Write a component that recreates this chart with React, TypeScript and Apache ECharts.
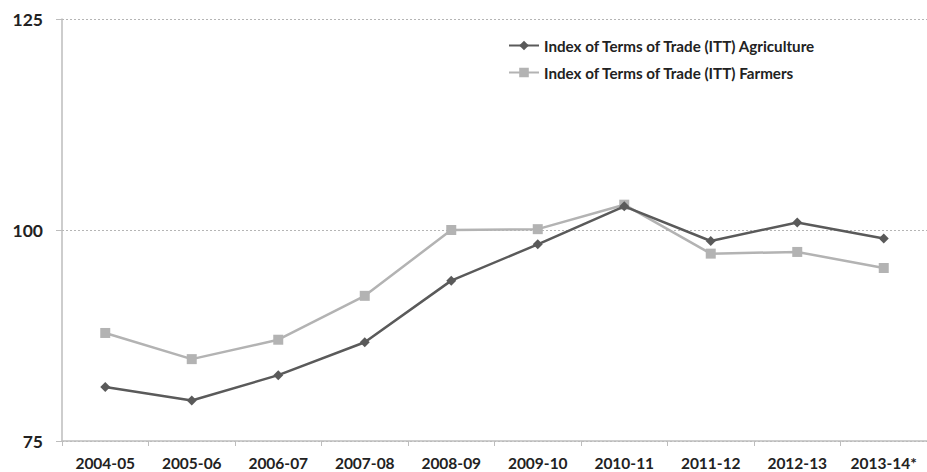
import React, { useEffect, useRef } from "react";
import * as echarts from "echarts";

const categories = ["2004-05", "2005-06", "2006-07", "2007-08", "2008-09", "2009-10", "2010-11", "2011-12", "2012-13", "2013-14*"];
const agriculture = [81.4, 79.8, 82.8, 86.7, 94.0, 98.3, 102.8, 98.7, 100.9, 99.0];
const farmers = [87.8, 84.7, 87.0, 92.2, 100.0, 100.1, 103.0, 97.2, 97.4, 95.5];
const seriesNames = ["Index of Terms of Trade (ITT) Agriculture", "Index of Terms of Trade (ITT) Farmers"];

const FONT = "Lato, 'Open Sans', sans-serif";

export default function App() {
  const ref = useRef<HTMLDivElement>(null);
  useEffect(() => {
    if (!ref.current) return;
    const chart = echarts.init(ref.current, null, { renderer: "svg" });
    chart.setOption({
      animation: false,
      backgroundColor: "#fff",
      grid: { left: 62, right: -12, top: 19, bottom: 31, containLabel: false },
      legend: {
        orient: "vertical",
        left: 503,
        top: 33,
        itemGap: 12,
        itemWidth: 30,
        itemHeight: 12,
        textStyle: { fontFamily: FONT, fontWeight: "bold", fontSize: 15.2, color: "#222" },
        data: seriesNames,
      },
      xAxis: {
        type: "category",
        data: categories,
        boundaryGap: true,
        axisLine: { lineStyle: { color: "#bdbdbd", width: 1.5 } },
        axisTick: { show: true, length: 5, lineStyle: { color: "#bdbdbd" } },
        axisLabel: { fontFamily: FONT, fontWeight: "bold", fontSize: 15.5, color: "#222", margin: 14 },
      },
      yAxis: {
        type: "value",
        min: 75,
        max: 125,
        interval: 25,
        axisLine: { show: true, lineStyle: { color: "#bdbdbd", width: 1.5 } },
        axisTick: { show: true, length: 6, lineStyle: { color: "#bdbdbd" } },
        axisLabel: { fontFamily: FONT, fontWeight: "bold", fontSize: 17.5, color: "#222", margin: 19 },
        splitLine: { show: true, lineStyle: { color: "#b5b5b5", type: [2, 2], width: 1 } },
      },
      series: [
        {
          name: seriesNames[0],
          type: "line",
          data: agriculture,
          symbol: "diamond",
          symbolSize: 10,
          itemStyle: { color: "#5a5a5a" },
          lineStyle: { color: "#5a5a5a", width: 2.5 },
          z: 3,
        },
        {
          name: seriesNames[1],
          type: "line",
          data: farmers,
          symbol: "rect",
          symbolSize: 10,
          itemStyle: { color: "#b3b3b3" },
          lineStyle: { color: "#b3b3b3", width: 2.5 },
          z: 2,
        },
      ],
    });
    return () => chart.dispose();
  }, []);
  return <div ref={ref} style={{ width: 927, height: 472, position: "absolute", left: 0, top: 0 }} />;
}
